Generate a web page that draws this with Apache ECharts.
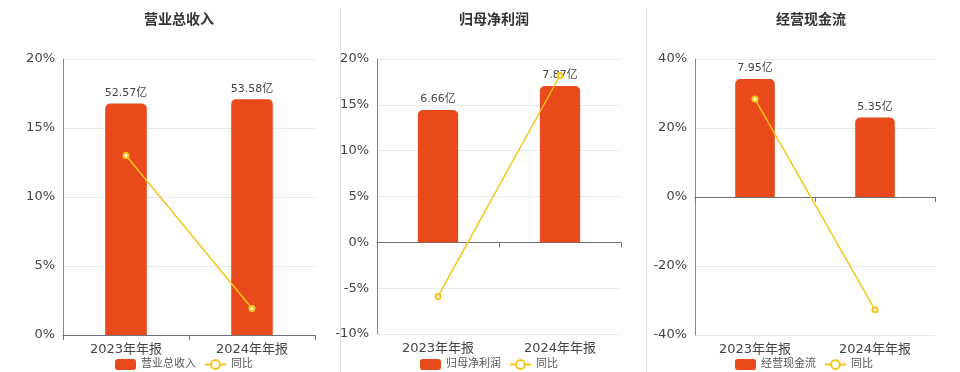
<!DOCTYPE html>
<html><head><meta charset="utf-8">
<script src="https://cdn.jsdelivr.net/npm/echarts@6/dist/echarts.min.js"></script>
<style>html,body{margin:0;padding:0;background:#fff}#c{width:960px;height:372px}</style>
</head><body><div id="c"></div>
<script>
const categories = ['2023年年报', '2024年年报'];
const titles = ['营业总收入', '归母净利润', '经营现金流'];
const revenue = [52.57, 53.58];
const revenueYoY = [13.0, 1.92];
const profit = [6.66, 7.87];
const profitYoY = [-5.9, 18.2];
const cashflow = [7.95, 5.35];
const cashflowYoY = [28.4, -32.7];
const pctTicks = [[0, 20, 5], [-10, 20, 5], [-40, 40, 20]];
const barRanges = [[0, 62.7], [-4.615, 9.23], [-9.3, 9.3]];

const BAR = '#E84A1B', LINE = '#F5C518';
const grids = [
  {left: 63, right: 645, top: 59, bottom: 37},
  {left: 377, right: 339, top: 59, bottom: 38},
  {left: 695, right: 25, top: 59, bottom: 37}
];
const centers = [174, 489, 806];
const legendLeft = [110, 415, 730];
const barData = [revenue, profit, cashflow];
const yoyData = [revenueYoY, profitYoY, cashflowYoY];

const option = {
  animation: false,
  textStyle: {fontFamily: 'DejaVu Sans, Noto Sans CJK SC, sans-serif'},
  title: titles.map((t, i) => ({text: t, left: centers[i], top: 8, textAlign: 'center',
    textStyle: {fontSize: 14, fontWeight: 'bold', color: '#333'}})),
  legend: titles.map((t, i) => ({data: [t, '同比'], left: legendLeft[i], top: 354,
    itemWidth: 21, itemHeight: 11, itemGap: 8,
    textStyle: {fontSize: 11, color: '#555'}})),
  grid: grids,
  xAxis: grids.map((g, i) => ({type: 'category', gridIndex: i, data: categories,
    axisLine: {onZero: true, onZeroAxisIndex: i * 2, lineStyle: {color: '#6E7079'}},
    axisTick: {show: true, alignWithLabel: false, lineStyle: {color: '#6E7079'}},
    axisLabel: {fontSize: 13, color: '#444', margin: 8}})),
  yAxis: [],
  series: [],
  graphic: [
    {type: 'line', shape: {x1: 340.5, y1: 8, x2: 340.5, y2: 372}, style: {stroke: '#ddd', lineWidth: 1}},
    {type: 'line', shape: {x1: 646.5, y1: 8, x2: 646.5, y2: 372}, style: {stroke: '#ddd', lineWidth: 1}}
  ]
};
grids.forEach((g, i) => {
  option.yAxis.push({type: 'value', gridIndex: i, min: pctTicks[i][0], max: pctTicks[i][1], interval: pctTicks[i][2],
    axisLine: {show: true, lineStyle: {color: '#888'}}, axisTick: {show: false},
    axisLabel: {formatter: '{value}%', fontSize: 13, color: '#444'},
    splitLine: {lineStyle: {color: '#E6E9F4'}}});
  option.yAxis.push({type: 'value', gridIndex: i, min: barRanges[i][0], max: barRanges[i][1],
    show: false, splitLine: {show: false}});
});
grids.forEach((g, i) => {
  option.series.push({type: 'bar', name: titles[i], xAxisIndex: i, yAxisIndex: i * 2 + 1,
    data: barData[i], barWidth: '33%', itemStyle: {color: BAR, borderRadius: [5, 5, 0, 0]},
    label: {show: true, position: 'top', formatter: p => p.value + '亿', fontSize: 11, color: '#444'}});
  option.series.push({type: 'line', name: '同比', xAxisIndex: i, yAxisIndex: i * 2,
    data: yoyData[i], symbol: 'emptyCircle', symbolSize: 5, z: 5,
    lineStyle: {color: LINE, width: 1.5}, itemStyle: {color: LINE}});
});
const chart = echarts.init(document.getElementById('c'));
chart.setOption(option);
</script></body></html>
